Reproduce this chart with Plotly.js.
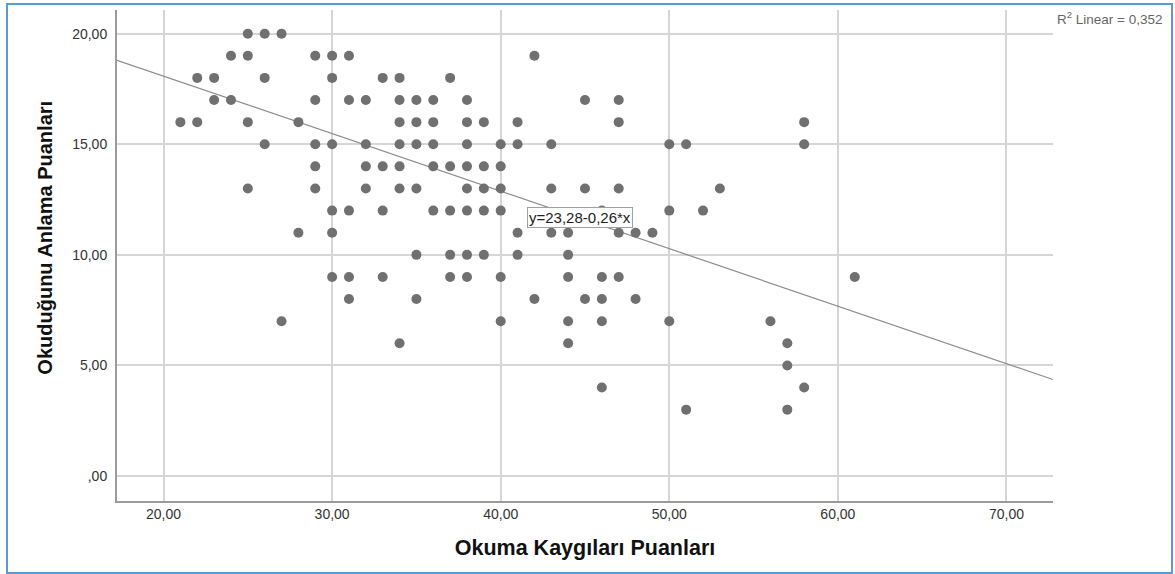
<!DOCTYPE html>
<html>
<head>
<meta charset="utf-8">
<script src="https://cdn.plot.ly/plotly-3.0.1.min.js"></script>
<style>
  html, body { margin: 0; padding: 0; background: #ffffff; overflow: hidden; }
  #chart { position: absolute; left: 0; top: 0; width: 1175px; height: 574px; }
  #frame { position: absolute; left: 6px; top: 3px; width: 1167px; height: 571px;
           border: 2px solid #5b9bd5; box-sizing: border-box; pointer-events: none; }
</style>
</head>
<body>
<div id="chart"></div>
<div id="frame"></div>
<script>
// Okuma Kaygıları Puanları (x) vs. Okuduğunu Anlama Puanları (y), one entry per student point
const kaygi = [
  25, 26, 27,                                         // anlama 20
  24, 25, 29, 30, 31, 42,                             // anlama 19
  22, 23, 26, 30, 33, 34, 37,                         // anlama 18
  23, 24, 29, 31, 32, 34, 35, 36, 38, 45, 47,         // anlama 17
  21, 22, 25, 28, 34, 35, 36, 38, 39, 41, 47, 58,     // anlama 16
  26, 29, 30, 32, 34, 35, 36, 38, 40, 41, 43, 50, 51, 58, // anlama 15
  29, 32, 33, 34, 36, 37, 38, 39, 40,                 // anlama 14
  25, 29, 32, 34, 35, 38, 39, 40, 43, 45, 47, 53,     // anlama 13
  30, 31, 33, 36, 37, 38, 39, 40, 46, 50, 52,         // anlama 12
  28, 30, 41, 43, 44, 47, 48, 49,                     // anlama 11
  35, 37, 38, 39, 41, 44,                             // anlama 10
  30, 31, 33, 37, 38, 40, 44, 46, 47, 61,             // anlama 9
  31, 35, 42, 45, 46, 48,                             // anlama 8
  27, 40, 44, 46, 50, 56,                             // anlama 7
  34, 44, 57,                                         // anlama 6
  57,                                                 // anlama 5
  46, 58,                                             // anlama 4
  51, 57                                              // anlama 3
];
const anlama = [
  20, 20, 20,
  19, 19, 19, 19, 19, 19,
  18, 18, 18, 18, 18, 18, 18,
  17, 17, 17, 17, 17, 17, 17, 17, 17, 17, 17,
  16, 16, 16, 16, 16, 16, 16, 16, 16, 16, 16, 16,
  15, 15, 15, 15, 15, 15, 15, 15, 15, 15, 15, 15, 15, 15,
  14, 14, 14, 14, 14, 14, 14, 14, 14,
  13, 13, 13, 13, 13, 13, 13, 13, 13, 13, 13, 13,
  12, 12, 12, 12, 12, 12, 12, 12, 12, 12, 12,
  11, 11, 11, 11, 11, 11, 11, 11,
  10, 10, 10, 10, 10, 10,
  9, 9, 9, 9, 9, 9, 9, 9, 9, 9,
  8, 8, 8, 8, 8, 8,
  7, 7, 7, 7, 7, 7,
  6, 6, 6,
  5,
  4, 4,
  3, 3
];

// Linear fit reported with the chart
const intercept = 23.28;
const slope = -0.26;
const rSquared = 0.352;

// Axis ticks
const xTickVals = [20, 30, 40, 50, 60, 70];
const xTickLabels = ["20,00", "30,00", "40,00", "50,00", "60,00", "70,00"];
const yTickVals = [0, 5, 10, 15, 20];
const yTickLabels = [",00", "5,00", "10,00", "15,00", "20,00"];

const xRange = [17.24, 72.76];
const yRange = [-1.13, 21.07];

const fmt = v => v.toFixed(2).replace('.', ',');
const fitX = xRange.slice();
const fitY = fitX.map(x => intercept + slope * x);

const FONT = 'Arial, "Liberation Sans", sans-serif';

const traces = [
  {
    type: 'scatter', mode: 'lines', x: fitX, y: fitY,
    line: { color: '#8c8c8c', width: 1.2 }, hoverinfo: 'skip', showlegend: false
  },
  {
    type: 'scatter', mode: 'markers', x: kaygi, y: anlama,
    marker: { color: '#707070', size: 10, line: { width: 0 } }, showlegend: false
  }
];

const layout = {
  width: 1175, height: 574,
  margin: { l: 117, r: 122, t: 10, b: 73, pad: 0 },
  paper_bgcolor: '#ffffff', plot_bgcolor: '#ffffff',
  font: { family: FONT, color: '#333333' },
  showlegend: false,
  xaxis: {
    range: xRange, tickvals: xTickVals, ticktext: xTickLabels,
    showgrid: true, gridcolor: '#d6d6d6', gridwidth: 2,
    showline: true, linecolor: '#9b9b9b', linewidth: 2, zeroline: false,
    ticks: '', ticklabelstandoff: -1,
    tickfont: { family: FONT, size: 14, color: '#333333' },
    automargin: false,
    title: { text: 'Okuma Kaygıları Puanları', standoff: 19,
             font: { family: FONT, size: 21.5, color: '#111111', weight: 700 } }
  },
  yaxis: {
    range: yRange, tickvals: yTickVals, ticktext: yTickLabels,
    showgrid: true, gridcolor: '#d6d6d6', gridwidth: 2,
    showline: true, linecolor: '#9b9b9b', linewidth: 2, zeroline: false,
    ticks: '', ticklabelstandoff: 5,
    tickfont: { family: FONT, size: 14, color: '#333333' },
    automargin: false
  },
  annotations: [
    {
      xref: 'paper', yref: 'paper', x: -0.0766, y: 0.537,
      text: 'Okuduğunu Anlama Puanları', textangle: -90, showarrow: false,
      xanchor: 'center', yanchor: 'middle',
      font: { family: FONT, size: 20, color: '#111111', weight: 700 }
    },
    {
      xref: 'x', yref: 'y', x: 44.7, y: 11.71,
      text: 'y=' + fmt(intercept) + '-' + fmt(Math.abs(slope)) + '*x',
      showarrow: false, xanchor: 'center', yanchor: 'middle',
      bgcolor: '#ffffff', bordercolor: '#a0a0a0', borderwidth: 1, borderpad: 1,
      font: { family: FONT, size: 15, color: '#222222' }
    },
    {
      xref: 'paper', yref: 'paper', x: 1.0018, y: 0.983,
      text: 'R<sup>2</sup> Linear = ' + rSquared.toFixed(3).replace('.', ','),
      showarrow: false, xanchor: 'left', yanchor: 'middle',
      font: { family: FONT, size: 13.5, color: '#666666' }
    }
  ]
};

Plotly.newPlot('chart', traces, layout, { displayModeBar: false, staticPlot: true });
</script>
</body>
</html>
